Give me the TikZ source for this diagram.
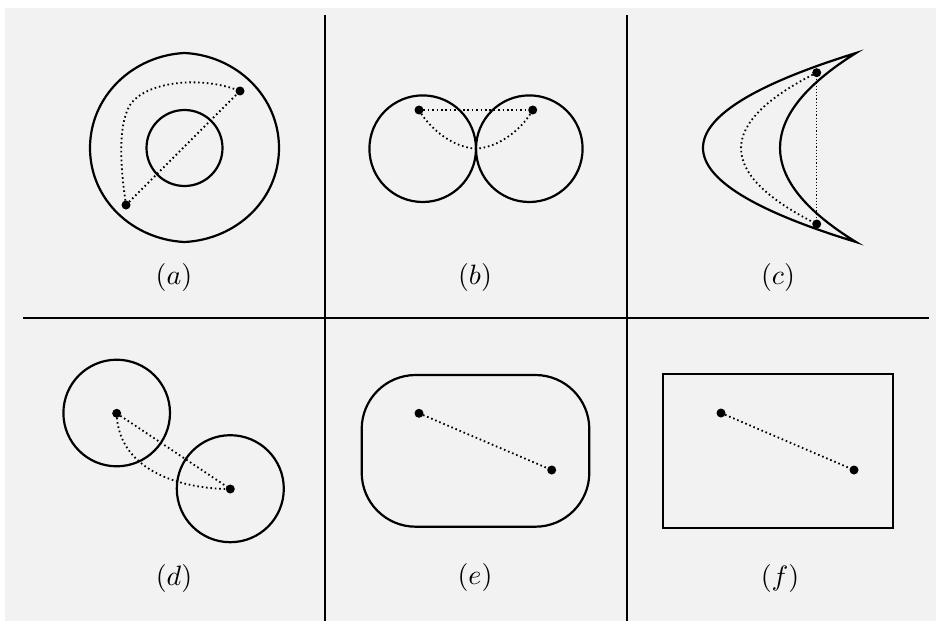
\documentclass[tikz,border=0pt]{standalone}
\definecolor{bg}{HTML}{F2F2F2}
\begin{document}
\begin{tikzpicture}[x=1pt,y=-1pt,
  figline/.style={line width=2.2pt, line join=miter},
  sepline/.style={line width=2.2pt},
  dotline/.style={line width=1.8pt, dash pattern=on 1.6pt off 2.8pt},
  thindot/.style={line width=1.3pt, dash pattern=on 1.2pt off 2pt},
  pt/.style={circle, fill=black, inner sep=0pt, minimum size=9pt},
  lbl/.style={scale=2.8, inner sep=0pt}]

\useasboundingbox (0,0) rectangle (936,621);
\fill[bg] (5,8) rectangle (936,621);

% separators
\coordinate (v1t) at (325,15); \coordinate (v1b) at (325,621);
\coordinate (v2t) at (627,15); \coordinate (v2b) at (627,621);
\coordinate (hl) at (23,318);  \coordinate (hr) at (929,318);
\draw[sepline] (v1t) -- (v1b);
\draw[sepline] (v2t) -- (v2b);
\draw[sepline] (hl) -- (hr);

% (a)
\draw[figline] (90,148) .. controls (90,96) and (133,55.5) .. (184.5,53)
  .. controls (236,55.5) and (279,96) .. (279,148)
  .. controls (279,200) and (236,239.5) .. (184.5,242)
  .. controls (133,239.5) and (90,200) .. (90,148) -- cycle;
\draw[figline] (184.5,148) circle[radius=38];
\node[pt] (a1) at (240,91) {};
\node[pt] (a2) at (126,205) {};
\draw[dotline] (a2.center) -- (a1.center);
\draw[dotline] (a2.center) .. controls (120,165) and (118,125) .. (130,105)
  .. controls (145,82) and (200,75) .. (a1.center);
\node[lbl] (la) at (174,277) {$(a)$};

% (b)
\draw[figline] (422.7,148.7) circle[radius=53.3];
\draw[figline] (529.3,148.7) circle[radius=53.3];
\node[pt] (b1) at (419,110) {};
\node[pt] (b2) at (532.7,110) {};
\coordinate (bt) at (476,148.7);
\draw[dotline] (b1.center) -- (b2.center);
\draw[dotline] (b1.center) .. controls (428,126) and (450,147) .. (bt)
  .. controls (502,147) and (524,126) .. (b2.center);
\node[lbl] (lb) at (475,277) {$(b)$};

% (c)
\draw[figline] (856,53) .. controls (652,116.3) and (652,179.7) .. (856,242)
  .. controls (754.7,179.7) and (754.7,116.3) .. (856,53) -- cycle;
\node[pt] (c1) at (816.7,72.7) {};
\node[pt] (c2) at (816.7,224) {};
\draw[dotline] (c1.center) .. controls (715.8,123.1) and (715.8,173.5) .. (c2.center);
\draw[thindot] (c1.center) -- (c2.center);
\node[lbl] (lc) at (778,277) {$(c)$};

% (d)
\draw[figline] (116.7,413) circle[radius=53.3];
\draw[figline] (230.3,488.7) circle[radius=53.5];
\node[pt] (d1) at (116.7,413.3) {};
\node[pt] (d2) at (230.3,489) {};
\draw[dotline] (d1.center) -- (d2.center);
\draw[dotline] (d1.center) .. controls (118,470) and (180,489) .. (d2.center);
\node[lbl] (ld) at (174,578) {$(d)$};

% (e)
\draw[figline, rounded corners=54pt] (361.7,375) rectangle (589.3,526.7);
\node[pt] (e1) at (419,413.3) {};
\node[pt] (e2) at (551.7,470) {};
\draw[dotline] (e1.center) -- (e2.center);
\node[lbl] (le) at (475,577) {$(e)$};

% (f)
\draw[figline] (663.3,374) rectangle (893.3,527.7);
\node[pt] (f1) at (721,413) {};
\node[pt] (f2) at (854,470) {};
\draw[dotline] (f1.center) -- (f2.center);
\node[lbl] (lf) at (780,578) {$(f)$};
\end{tikzpicture}
\end{document}
